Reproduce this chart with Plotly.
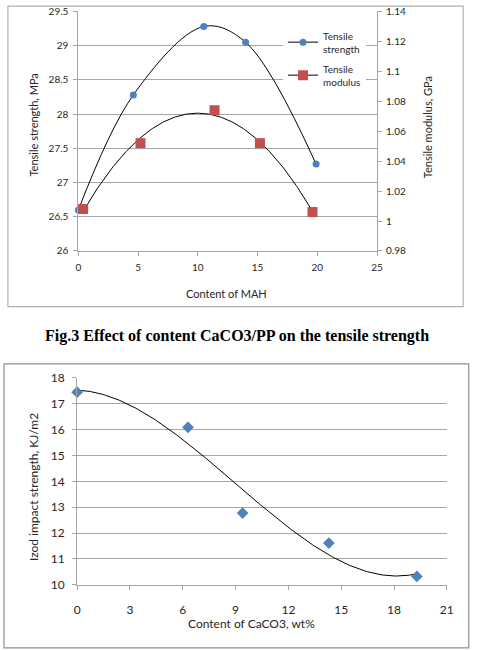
import numpy as np
import plotly.graph_objects as go

# ---------------- data ----------------
mah_strength_x = [0, 4.6, 10.5, 14.0, 19.9]
tensile_strength = [26.6, 28.28, 29.28, 29.05, 27.27]

mah_modulus_x = [0.4, 5.2, 11.4, 15.2, 19.6]
tensile_modulus = [1.008, 1.052, 1.074, 1.052, 1.006]

caco3_x = [0, 6.3, 9.4, 14.3, 19.3]
izod_impact = [17.45, 16.09, 12.77, 11.61, 10.32]

top_x_ticks = [0, 5, 10, 15, 20, 25]
top_left_ticks = [26, 26.5, 27, 27.5, 28, 28.5, 29, 29.5]
top_right_ticks = [0.98, 1.0, 1.02, 1.04, 1.06, 1.08, 1.10, 1.12, 1.14]
bot_x_ticks = [0, 3, 6, 9, 12, 15, 18, 21]
bot_y_ticks = [10, 11, 12, 13, 14, 15, 16, 17, 18]

caption = "Fig.3 Effect of content CaCO3/PP on the tensile strength"

# ---------------- geometry helpers ----------------
W, H = 478, 650
def px(x):
    return x / W
def py(y):
    return 1 - y / H

def trend(xs, ys, order):
    c = np.polyfit(xs, ys, order)
    xx = np.linspace(min(xs), max(xs), 200)
    return xx, np.polyval(c, xx)

FONT = "Lato"
GRID = "#a6a6a6"
AX = "#a6a6a6"
TXT = "#262626"
BLUE = "#4F81BD"
RED = "#C0504D"

fig = go.Figure()

# ---- top chart ----
# smoothed line through the tensile strength points
fig.add_trace(go.Scatter(x=mah_strength_x, y=tensile_strength, mode="lines",
                         line=dict(color="black", width=1, shape="spline", smoothing=1.0),
                         xaxis="x", yaxis="y", showlegend=False, hoverinfo="skip"))
# polynomial trendline for the modulus
mx, my = trend(mah_modulus_x, tensile_modulus, 2)
fig.add_trace(go.Scatter(x=mx, y=my, mode="lines", line=dict(color="black", width=1),
                         xaxis="x", yaxis="y2", showlegend=False, hoverinfo="skip"))
fig.add_trace(go.Scatter(x=mah_strength_x, y=tensile_strength, mode="markers",
                         marker=dict(color=BLUE, size=7, symbol="circle"), cliponaxis=False,
                         xaxis="x", yaxis="y", showlegend=False))
fig.add_trace(go.Scatter(x=mah_modulus_x, y=tensile_modulus, mode="markers",
                         marker=dict(color=RED, size=10, symbol="square"), cliponaxis=False,
                         xaxis="x", yaxis="y2", showlegend=False))
# legend entries
fig.add_trace(go.Scatter(x=[None], y=[None], mode="lines+markers", name="Tensile<br>strength",
                         line=dict(color="black", width=1),
                         marker=dict(color=BLUE, size=7, symbol="circle"),
                         xaxis="x", yaxis="y", legendgroup="a"))
fig.add_trace(go.Scatter(x=[None], y=[None], mode="lines+markers", name="Tensile<br>modulus",
                         line=dict(color="black", width=1),
                         marker=dict(color=RED, size=10, symbol="square"),
                         xaxis="x", yaxis="y2", legendgroup="b"))

# ---- bottom chart ----
ix, iy = trend(caco3_x, izod_impact, 3)
fig.add_trace(go.Scatter(x=ix, y=iy, mode="lines", line=dict(color="black", width=1),
                         xaxis="x2", yaxis="y3", showlegend=False, hoverinfo="skip"))
fig.add_trace(go.Scatter(x=caco3_x, y=izod_impact, mode="markers",
                         marker=dict(color=BLUE, size=9, symbol="diamond"), cliponaxis=False,
                         xaxis="x2", yaxis="y3", showlegend=False))

tick_font_top = dict(family=FONT, size=10, color=TXT)
tick_font_bot = dict(family=FONT, size=12, color=TXT)

fig.update_layout(
    width=W, height=H,
    margin=dict(l=0, r=0, t=0, b=0),
    paper_bgcolor="white", plot_bgcolor="rgba(0,0,0,0)",
    font=dict(family=FONT, color=TXT),
    xaxis=dict(domain=[px(77), px(382)], range=[0, 25], tickvals=top_x_ticks,
               showgrid=False, zeroline=False, showline=True, linecolor=AX, linewidth=1,
               ticks="outside", ticklen=4, tickcolor=AX, tickfont=tick_font_top,
               ticklabelstandoff=3, anchor="y", fixedrange=True),
    yaxis=dict(domain=[py(248.7), py(3.5)], range=[26, 29.5], tickvals=top_left_ticks,
               showgrid=True, gridcolor=GRID, gridwidth=1, zeroline=False,
               showline=True, linecolor=AX, linewidth=1,
               ticks="outside", ticklen=4, tickcolor=AX, tickfont=tick_font_top,
               ticklabelstandoff=3, anchor="x"),
    yaxis2=dict(overlaying="y", side="right", range=[0.98, 1.14], tickvals=top_right_ticks,
                showgrid=False, zeroline=False, showline=True, linecolor=AX, linewidth=1,
                ticks="outside", ticklen=4, tickcolor=AX, tickfont=tick_font_top,
                ticklabelstandoff=2, anchor="x"),
    xaxis2=dict(domain=[px(75.7), px(453.3)], range=[0, 21], tickvals=bot_x_ticks,
                showgrid=False, zeroline=False, showline=True, linecolor=AX, linewidth=1,
                ticks="outside", ticklen=4, tickcolor=AX, tickfont=tick_font_bot,
                ticklabelstandoff=10, anchor="y3"),
    yaxis3=dict(domain=[py(590.3), py(378.7)], range=[10, 18], tickvals=bot_y_ticks,
                showgrid=True, gridcolor=GRID, gridwidth=1, zeroline=False,
                showline=True, linecolor=AX, linewidth=1,
                ticks="outside", ticklen=4, tickcolor=AX, tickfont=tick_font_bot,
                ticklabelstandoff=5, anchor="x2"),
    legend=dict(x=px(286), y=py(15), xanchor="left", yanchor="top",
                bgcolor="white", borderwidth=0, font=dict(family=FONT, size=10, color=TXT),
                tracegroupgap=4, itemwidth=30),
    showlegend=True,
)

# borders of the two chart boxes
fig.add_shape(type="rect", xref="paper", yref="paper",
              x0=px(5), x1=px(470), y0=py(305.7), y1=py(-2),
              line=dict(color="#b0b0b0", width=1.2), fillcolor="rgba(0,0,0,0)", layer="below")
fig.add_shape(type="rect", xref="paper", yref="paper",
              x0=px(1), x1=px(475.7), y0=py(655), y1=py(364.3),
              line=dict(color="#909090", width=1.2), fillcolor="rgba(0,0,0,0)", layer="below")

ann = []
ann.append(dict(text="Tensile strength, MPa", x=px(31), y=py(120), textangle=-90,
                font=dict(family=FONT, size=11, color=TXT)))
ann.append(dict(text="Tensile modulus, GPa", x=px(433), y=py(122), textangle=-90,
                font=dict(family=FONT, size=11, color=TXT)))
ann.append(dict(text="Content of MAH", x=px(228), y=py(292),
                font=dict(family=FONT, size=11, color=TXT)))
ann.append(dict(text="<b>" + caption + "</b>", x=px(238.5), y=py(336),
                font=dict(family="Liberation Serif", size=16, color="black")))
ann.append(dict(text="Izod impact strength, KJ/m2", x=px(31), y=py(490), textangle=-90,
                font=dict(family=FONT, size=12, color=TXT)))
ann.append(dict(text="Content of CaCO3, wt%", x=px(254), y=py(630),
                font=dict(family=FONT, size=12, color=TXT)))
for a in ann:
    a.update(xref="paper", yref="paper", xanchor="center", yanchor="middle", showarrow=False)
fig.update_layout(annotations=ann)

fig.write_html("out.html")
